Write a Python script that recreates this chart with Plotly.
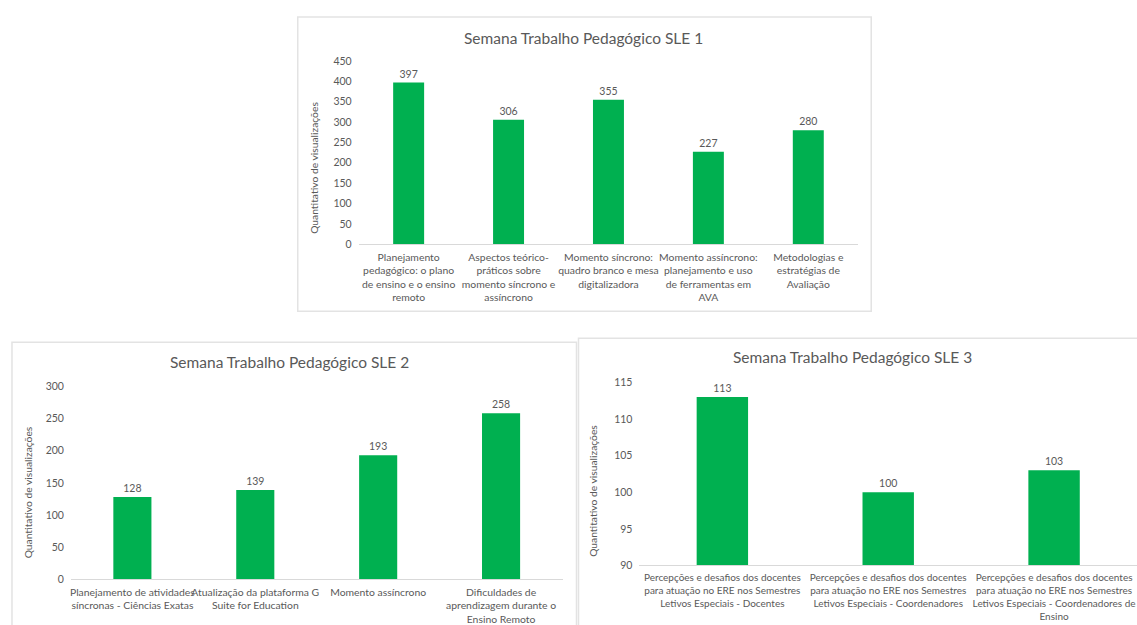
import plotly.graph_objects as go

W, H = 1137, 625

# ---------------- data ----------------
titles = ["Semana Trabalho Pedagógico SLE 1",
          "Semana Trabalho Pedagógico SLE 2",
          "Semana Trabalho Pedagógico SLE 3"]
y_title = "Quantitativo de visualizações"

cats1 = ["Planejamento<br>pedagógico: o plano<br>de ensino e o ensino<br>remoto",
         "Aspectos teórico-<br>práticos sobre<br>momento síncrono e<br>assíncrono",
         "Momento síncrono:<br>quadro branco e mesa<br>digitalizadora",
         "Momento assíncrono:<br>planejamento e uso<br>de ferramentas em<br>AVA",
         "Metodologias e<br>estratégias de<br>Avaliação"]
vals1 = [397, 306, 355, 227, 280]
ticks1 = [0, 50, 100, 150, 200, 250, 300, 350, 400, 450]

cats2 = ["Planejamento de atividades<br>síncronas - Ciências Exatas",
         "Atualização da plataforma G<br>Suite for Education",
         "Momento assíncrono",
         "Dificuldades de<br>aprendizagem durante o<br>Ensino Remoto"]
vals2 = [128, 139, 193, 258]
ticks2 = [0, 50, 100, 150, 200, 250, 300]

cats3 = ["Percepções e desafios dos docentes<br>para atuação no ERE nos Semestres<br>Letivos Especiais - Docentes",
         "Percepções e desafios dos docentes<br>para atuação no ERE nos Semestres<br>Letivos Especiais - Coordenadores",
         "Percepções e desafios dos docentes<br>para atuação no ERE nos Semestres<br>Letivos Especiais - Coordenadores de<br>Ensino"]
vals3 = [113, 100, 103]
ticks3 = [90, 95, 100, 105, 110, 115]

# ---------------- style ----------------
GREEN = "#00B050"
GREY = "#595959"
LINE = "#D9D9D9"
FONT = "Lato, Carlito, Calibri, sans-serif"


def px(x):
    return x / W


def py(y):
    # target pixel row -> paper fraction (calibrated to the capture)
    return 1 - ((y - 6) / 0.98) / H


panels = [
    dict(cats=cats1, vals=vals1, ticks=ticks1, rng=[0, 450], xfs=10.4,
         plot=(358, 858, 244, 61), box=(297, 17, 871, 311),
         tpos=(583, 38), ytpos=(313, 168)),
    dict(cats=cats2, vals=vals2, ticks=ticks2, rng=[0, 300], xfs=10.4,
         plot=(70, 562, 579, 386), box=(11, 342, 576, 640),
         tpos=(289, 362), ytpos=(27, 492)),
    dict(cats=cats3, vals=vals3, ticks=ticks3, rng=[90, 115], xfs=10.0,
         plot=(639, 1137, 565, 382), box=(578, 338, 1140, 640),
         tpos=(852, 357), ytpos=(593, 490)),
]

fig = go.Figure()
layout = dict(
    width=W, height=H,
    margin=dict(l=0, r=0, t=0, b=0),
    paper_bgcolor="white", plot_bgcolor="white",
    showlegend=False,
    font=dict(family=FONT, color=GREY, size=10),
    bargap=0.69,
)
shapes = []
annotations = []

for i, p in enumerate(panels, start=1):
    xa = "x" if i == 1 else f"x{i}"
    ya = "y" if i == 1 else f"y{i}"
    fig.add_trace(go.Bar(
        x=p["cats"], y=p["vals"], xaxis=xa, yaxis=ya,
        marker=dict(color=GREEN, line=dict(width=0)),
        text=p["vals"], textposition="outside",
        textfont=dict(family=FONT, size=10.5, color=GREY),
        cliponaxis=False, hoverinfo="x+y",
    ))
    x0, x1, yb, yt = p["plot"]
    layout["xaxis" if i == 1 else f"xaxis{i}"] = dict(
        domain=[px(x0), px(x1)], anchor=ya,
        showline=True, linecolor=LINE, linewidth=1,
        showgrid=False, zeroline=False, ticks="",
        tickfont=dict(family=FONT, size=p["xfs"], color=GREY),
        ticklabelstandoff=3,
        tickangle=0, fixedrange=True,
    )
    layout["yaxis" if i == 1 else f"yaxis{i}"] = dict(
        domain=[py(yb), py(yt)], anchor=xa, range=p["rng"],
        tickvals=p["ticks"], showline=False, showgrid=False,
        zeroline=False, ticks="", ticklabelstandoff=6,
        tickfont=dict(family=FONT, size=10.5, color=GREY),
        fixedrange=True,
    )
    bx0, by0, bx1, by1 = p["box"]
    shapes.append(dict(type="rect", xref="paper", yref="paper",
                       x0=px(bx0), x1=px(bx1), y0=py(by1), y1=py(by0),
                       line=dict(color="#E3E3E3", width=1.5),
                       fillcolor="rgba(0,0,0,0)", layer="below"))
    tx, ty = p["tpos"]
    annotations.append(dict(text=titles[i - 1], xref="paper", yref="paper",
                            x=px(tx), y=py(ty), showarrow=False,
                            xanchor="center", yanchor="middle",
                            font=dict(family=FONT, size=15.5, color=GREY)))
    ax_, ay_ = p["ytpos"]
    annotations.append(dict(text=y_title, xref="paper", yref="paper",
                            x=px(ax_), y=py(ay_), showarrow=False,
                            textangle=-90, xanchor="center", yanchor="middle",
                            font=dict(family=FONT, size=10.3, color=GREY)))

layout["shapes"] = shapes
layout["annotations"] = annotations
fig.update_layout(**layout)
fig.write_html("out.html")
